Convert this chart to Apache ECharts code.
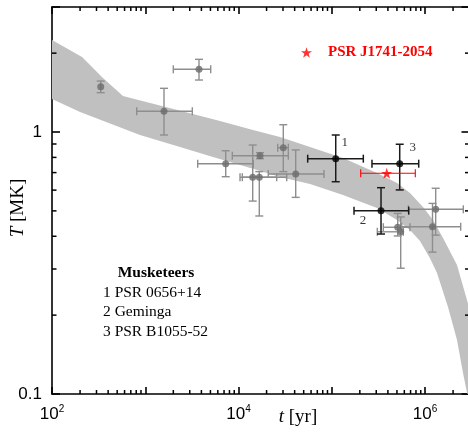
<!DOCTYPE html>
<html><head><meta charset="utf-8">
<script src="https://cdn.jsdelivr.net/npm/echarts@6/dist/echarts.min.js"></script>
<style>html,body{margin:0;padding:0;background:#fff}#c{width:468px;height:434px}</style>
</head><body><div id="c"></div>
<script>
// ---- cooling band (upper and lower edges) ----
const bandUpperAge  = [100, 210, 352, 577, 6332, 14305, 27860, 58470, 1.32e5, 3.06e5, 5.01e5, 6.9e5, 9.52e5, 1.218e6, 1.56e6, 2.204e6, 2.82e6, 3e6];
const bandUpperTemp = [2.244, 1.933, 1.608, 1.372, 1.102, 1.018, 0.957, 0.876, 0.796, 0.698, 0.639, 0.585, 0.517, 0.461, 0.394, 0.311, 0.2285, 0.211];
const bandLowerAge  = [100, 200, 878, 2359, 5326, 12336, 27860, 58470, 1.32e5, 3.06e5, 5.01e5, 6.9e5, 8.84e5, 1.131e6, 1.345e6, 1.764e6, 2.204e6, 2.556e6, 2.82e6, 2.86e6, 3e6];
const bandLowerTemp = [1.336, 1.192, 0.974, 0.876, 0.803, 0.735, 0.673, 0.633, 0.575, 0.513, 0.461, 0.423, 0.384, 0.330, 0.2896, 0.2148, 0.1608, 0.1203, 0.101, 0.1, 0.1];

// ---- other neutron stars (gray) ----
const grayAge    = [333, 3771, 1589, 7290, 1.70e4, 1.42e4, 1.671e4, 4.106e4, 3.022e4, 5.096e5, 5.488e5, 1.302e6, 1.203e6];
const grayTemp   = [1.489, 1.735, 1.20, 0.757, 0.812, 0.672, 0.672, 0.691, 0.871, 0.433, 0.416, 0.507, 0.435];
const grayAgeLo  = [333, 1999, 810, 3652, 8580, 1.038e4, 1.099e4, 2.087e4, 2.633e4, 3.571e5, 3.079e5, 6.62e5, 5.624e5];
const grayAgeHi  = [333, 5034, 3196, 14410, 3.42e4, 2.568e4, 3.289e4, 8.26e4, 3.42e4, 6.904e5, 5.852e5, 2.575e6, 2.414e6];
const grayTempLo = [1.413, 1.579, 0.974, 0.675, 0.791, 0.545, 0.478, 0.563, 0.706, 0.401, 0.302, 0.404, 0.348];
const grayTempHi = [1.565, 1.894, 1.468, 0.848, 0.834, 0.892, 0.706, 0.854, 1.066, 0.489, 0.474, 0.610, 0.534];

// ---- Musketeers (black) ----
const muskLabels  = ['1', '2', '3'];
const muskNames   = ['PSR 0656+14', 'Geminga', 'PSR B1055-52'];
const muskAge     = [1.103e5, 3.375e5, 5.355e5];
const muskTemp    = [0.791, 0.501, 0.757];
const muskAgeLo   = [5.52e4, 1.732e5, 2.70e5];
const muskAgeHi   = [2.18e5, 6.69e5, 8.56e5];
const muskTempLo  = [0.646, 0.408, 0.601];
const muskTempHi  = [0.974, 0.613, 0.898];

// ---- PSR J1741-2054 (red) ----
const redName    = 'PSR J1741-2054';
const redAge     = [3.885e5];
const redTemp    = [0.696];
const redAgeLo   = [2.044e5];
const redAgeHi   = [7.87e5];

// ---- ticks ----
const xMinorTicks = [200,300,400,500,600,700,800,900, 2000,3000,4000,5000,6000,7000,8000,9000,
  2e4,3e4,4e4,5e4,6e4,7e4,8e4,9e4, 2e5,3e5,4e5,5e5,6e5,7e5,8e5,9e5, 2e6];
const xLabelTicks = [1e2, 1e4, 1e6];
const yMinorTicks = [0.2,0.3,0.4,0.5,0.6,0.7,0.8,0.9, 2];
const yLabelTicks = [0.1, 1];

const STAR = 'path://M50 0 L61.2 34.5 L97.6 34.5 L68.2 55.9 L79.4 90.5 L50 69.1 L20.6 90.5 L31.8 55.9 L2.4 34.5 L38.8 34.5 Z';
const SERIF = '"Liberation Serif", "DejaVu Serif", serif';
const SANS = '"Liberation Sans", Arial, sans-serif';

function rows(a, t, alo, ahi, tlo, thi) {
  return a.map((v, i) => [v, t[i], alo[i], ahi[i], tlo ? tlo[i] : t[i], thi ? thi[i] : t[i]]);
}
function errRender(color, lw, cap) {
  return function (params, api) {
    const x = api.value(0), y = api.value(1), xl = api.value(2), xh = api.value(3), yl = api.value(4), yh = api.value(5);
    const c = api.coord([x, y]);
    const st = { stroke: color, lineWidth: lw, fill: null };
    const ch = [];
    const L = (x1, y1, x2, y2) => ch.push({ type: 'line', shape: { x1, y1, x2, y2 }, style: st });
    if (xh > xl) {
      const a = api.coord([xl, y])[0], b = api.coord([xh, y])[0];
      L(a, c[1], b, c[1]); L(a, c[1] - cap, a, c[1] + cap); L(b, c[1] - cap, b, c[1] + cap);
    }
    if (yh > yl) {
      const a = api.coord([x, yl])[1], b = api.coord([x, yh])[1];
      L(c[0], a, c[0], b); L(c[0] - cap, a, c[0] + cap, a); L(c[0] - cap, b, c[0] + cap, b);
    }
    return { type: 'group', children: ch };
  };
}
// minor ticks on all four sides, placed through the axis scale
function minorTickRender(isX, len) {
  return function (params, api) {
    const cs = params.coordSys;
    const st = { stroke: '#000', lineWidth: 1.5 };
    if (isX) {
      const px = api.coord([api.value(0), 1])[0];
      const yb = cs.y + cs.height, yt = cs.y;
      return { type: 'group', children: [
        { type: 'line', shape: { x1: px, y1: yb, x2: px, y2: yb - len }, style: st },
        { type: 'line', shape: { x1: px, y1: yt, x2: px, y2: yt + len }, style: st }
      ] };
    }
    const py = api.coord([1000, api.value(1)])[1];
    const xl = cs.x, xr = cs.x + cs.width;
    return { type: 'group', children: [
      { type: 'line', shape: { x1: xl, y1: py, x2: xl + len, y2: py }, style: st },
      { type: 'line', shape: { x1: xr, y1: py, x2: xr - len, y2: py }, style: st }
    ] };
  };
}

function mkAxis(pos, min, max, len, labels) {
  return {
    type: 'log', logBase: 10, min, max, position: pos, gridIndex: 0,
    axisLine: { show: true, onZero: false, lineStyle: { color: '#000', width: 1.6 } },
    axisTick: { show: true, inside: true, length: len, lineStyle: { color: '#000', width: 1.6 } },
    splitLine: { show: false }, minorTick: { show: false },
    axisLabel: labels || { show: false }
  };
}

const xLabel = {
  show: true, customValues: xLabelTicks, margin: 10, hideOverlap: false,
  formatter: v => '{b|10}{s|' + Math.round(Math.log10(v)) + '}',
  rich: {
    b: { fontSize: 17, fontFamily: SANS, color: '#000', lineHeight: 20 },
    s: { fontSize: 10, fontFamily: SANS, color: '#000', verticalAlign: 'top', lineHeight: 10 }
  }
};
const yLabel = {
  show: true, customValues: yLabelTicks, margin: 10, hideOverlap: false,
  formatter: v => String(v),
  fontSize: 17, fontFamily: SANS, color: '#000'
};

const chart = echarts.init(document.getElementById('c'), null, { renderer: 'canvas' });
chart.setOption({
  animation: false,
  backgroundColor: '#fff',
  grid: { left: 52, top: 7, right: -1.5, bottom: 40, containLabel: false, outerBoundsMode: 'none' },
  xAxis: [
    mkAxis('bottom', 100, 3e6, 7, xLabel),
    mkAxis('top', 100, 3e6, 7)
  ],
  yAxis: [
    mkAxis('left', 0.1, 3, 8, yLabel),
    mkAxis('right', 0.1, 3, 8)
  ],
  legend: {
    show: true, selectedMode: false, left: 301, top: 45, padding: 0,
    itemWidth: 11, itemHeight: 11,
    data: [{ name: redName, icon: STAR }],
    textStyle: { color: '#ff0000', fontWeight: 'bold', fontFamily: SERIF, fontSize: 15, padding: [0, 0, 0, 11] }
  },
  graphic: [
    { type: 'text', x: 156, y: 273, style: { text: 'Musketeers', font: 'bold 15.5px ' + SERIF, fill: '#000', align: 'center', verticalAlign: 'middle', textAlign: 'center', textVerticalAlign: 'middle' } },
    { type: 'text', x: 103, y: 292.5, style: { text: muskLabels[0] + ' ' + muskNames[0], font: '15.5px ' + SERIF, fill: '#000', align: 'left', verticalAlign: 'middle', textAlign: 'left', textVerticalAlign: 'middle' } },
    { type: 'text', x: 103, y: 312.2, style: { text: muskLabels[1] + ' ' + muskNames[1], font: '15.5px ' + SERIF, fill: '#000', align: 'left', verticalAlign: 'middle', textAlign: 'left', textVerticalAlign: 'middle' } },
    { type: 'text', x: 103, y: 331.8, style: { text: muskLabels[2] + ' ' + muskNames[2], font: '15.5px ' + SERIF, fill: '#000', align: 'left', verticalAlign: 'middle', textAlign: 'left', textVerticalAlign: 'middle' } },
    { type: 'text', x: 298, y: 417, style: { rich: { i: { fontStyle: 'italic', fontFamily: SERIF, fontSize: 19 }, r: { fontFamily: SERIF, fontSize: 19 } }, text: '{i|t}{r| [yr]}', fill: '#000', align: 'center', verticalAlign: 'middle', textAlign: 'center', textVerticalAlign: 'middle' } },
    { type: 'text', x: 18, y: 208, rotation: Math.PI / 2, style: { rich: { i: { fontStyle: 'italic', fontFamily: SERIF, fontSize: 19 }, r: { fontFamily: SERIF, fontSize: 19 } }, text: '{i|T}{r| [MK]}', fill: '#000', align: 'center', verticalAlign: 'middle', textAlign: 'center', textVerticalAlign: 'middle' } }
  ],
  series: [
    {
      type: 'custom', name: 'band', xAxisIndex: 0, yAxisIndex: 0, clip: true, silent: true, z: 1,
      data: [[bandUpperAge[0], bandUpperTemp[0]]],
      renderItem: function (params, api) {
        const pts = [];
        bandUpperAge.forEach((a, i) => pts.push(api.coord([a, bandUpperTemp[i]])));
        for (let i = bandLowerAge.length - 1; i >= 0; i--) pts.push(api.coord([bandLowerAge[i], bandLowerTemp[i]]));
        return { type: 'polygon', shape: { points: pts }, style: { fill: '#c0c0c0', stroke: null } };
      }
    },
    {
      type: 'custom', name: 'xMinor', xAxisIndex: 0, yAxisIndex: 0, clip: false, silent: true, z: 10,
      data: xMinorTicks.map(v => [v, 1]), renderItem: minorTickRender(true, 4)
    },
    {
      type: 'custom', name: 'yMinor', xAxisIndex: 0, yAxisIndex: 0, clip: false, silent: true, z: 10,
      data: yMinorTicks.map(v => [1000, v]), renderItem: minorTickRender(false, 4.5)
    },
    {
      type: 'custom', name: 'grayErr', xAxisIndex: 0, yAxisIndex: 0, z: 2, silent: true,
      data: rows(grayAge, grayTemp, grayAgeLo, grayAgeHi, grayTempLo, grayTempHi),
      renderItem: errRender('#8e8e8e', 1.4, 4)
    },
    {
      type: 'scatter', name: 'gray', xAxisIndex: 0, yAxisIndex: 0, z: 3, silent: true,
      symbol: 'circle', symbolSize: 7, itemStyle: { color: '#6c6c6c' },
      data: grayAge.map((a, i) => [a, grayTemp[i]])
    },
    {
      type: 'custom', name: 'muskErr', xAxisIndex: 0, yAxisIndex: 0, z: 4, silent: true,
      data: rows(muskAge, muskTemp, muskAgeLo, muskAgeHi, muskTempLo, muskTempHi),
      renderItem: errRender('#1a1a1a', 1.5, 4)
    },
    {
      type: 'custom', name: 'redErr', xAxisIndex: 0, yAxisIndex: 0, z: 4, silent: true,
      data: rows(redAge, redTemp, redAgeLo, redAgeHi),
      renderItem: errRender('#ff0000', 1.1, 4)
    },
    {
      type: 'scatter', name: 'musk', xAxisIndex: 0, yAxisIndex: 0, z: 5, silent: true,
      symbol: 'circle', symbolSize: 7, itemStyle: { color: '#000' },
      data: muskAge.map((a, i) => ({
        value: [a, muskTemp[i]],
        label: { show: true, formatter: muskLabels[i], offset: [[9, -16], [-18, 10], [13, -16]][i] }
      })),
      label: { position: 'inside', color: '#000', fontFamily: SERIF, fontSize: 13 }
    },
    {
      type: 'scatter', name: redName, xAxisIndex: 0, yAxisIndex: 0, z: 6, silent: true,
      symbol: STAR, symbolSize: 11, itemStyle: { color: '#ff0000' },
      data: redAge.map((a, i) => [a, redTemp[i]])
    }
  ]
});
</script></body></html>
